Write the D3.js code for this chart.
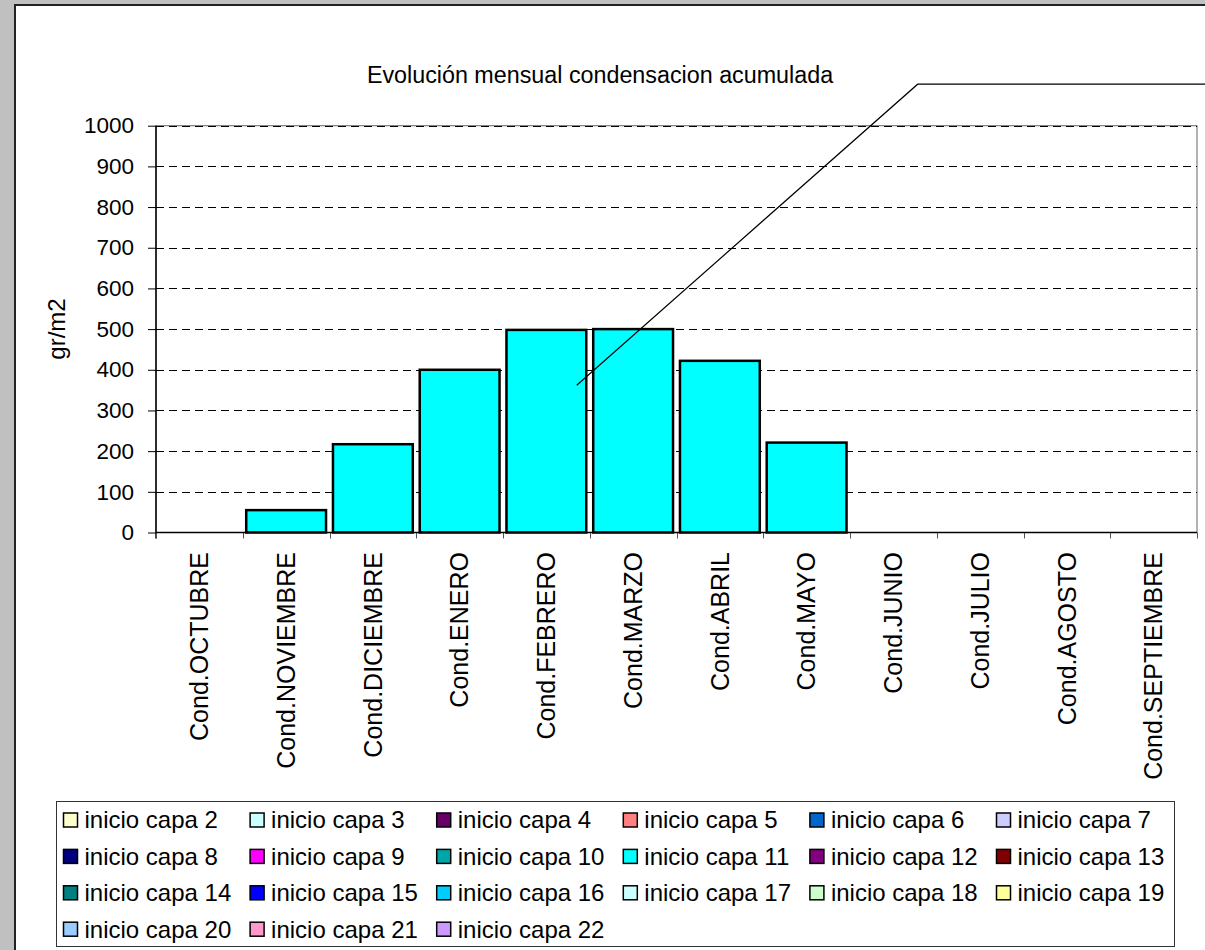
<!DOCTYPE html>
<html><head><meta charset="utf-8">
<script src="https://cdn.jsdelivr.net/npm/d3@7"></script>
<style>body{margin:0;background:#fff}svg{display:block;font-family:"Liberation Sans",Arial,sans-serif}</style>
</head><body><svg id="c" width="1205" height="950"></svg>
<script>
const title = "Evolución mensual condensacion acumulada";
const yLabel = "gr/m2";
const categories = ["Cond.OCTUBRE","Cond.NOVIEMBRE","Cond.DICIEMBRE","Cond.ENERO","Cond.FEBRERO","Cond.MARZO","Cond.ABRIL","Cond.MAYO","Cond.JUNIO","Cond.JULIO","Cond.AGOSTO","Cond.SEPTIEMBRE"];
const values = [0,55,217,400,498,500,422,221,0,0,0,0];
const yTicks = [0,100,200,300,400,500,600,700,800,900,1000];
const legendNames = ["inicio capa 2","inicio capa 3","inicio capa 4","inicio capa 5","inicio capa 6","inicio capa 7","inicio capa 8","inicio capa 9","inicio capa 10","inicio capa 11","inicio capa 12","inicio capa 13","inicio capa 14","inicio capa 15","inicio capa 16","inicio capa 17","inicio capa 18","inicio capa 19","inicio capa 20","inicio capa 21","inicio capa 22"];
const legendColors = ["#FFFFCC","#CCFFFF","#660066","#FF8080","#0066CC","#CCCCFF","#000080","#FF00FF","url(#pat10)","#00FFFF","#800080","#800000","#008080","#0000FF","#00CCFF","#CCFFFF","#CCFFCC","#FFFF99","#99CCFF","#FF99CC","#CC99FF"];
// leader line in (category-units, value) space
const leaderX = [4.85, 8.78, 12.1];
const leaderY = [362, 1102, 1102];

const svg = d3.select("#c");
const W = 1205, H = 950;
const defs = svg.append("defs");
const pat = defs.append("pattern").attr("id","pat10").attr("width",2).attr("height",2).attr("patternUnits","userSpaceOnUse");
pat.append("rect").attr("width",2).attr("height",2).attr("fill","#00CCCC");
pat.append("rect").attr("width",1).attr("height",1).attr("fill","#008080");
pat.append("rect").attr("x",1).attr("y",1).attr("width",1).attr("height",1).attr("fill","#008080");

svg.append("rect").attr("width",W).attr("height",H).attr("fill","#c0c0c0");
svg.append("rect").attr("x",15).attr("y",5).attr("width",W).attr("height",H).attr("fill","#fff");
svg.append("line").attr("x1",15).attr("x2",15).attr("y1",4).attr("y2",H).attr("stroke","#222").attr("stroke-width",2);
svg.append("line").attr("x1",14).attr("x2",W).attr("y1",5).attr("y2",5).attr("stroke","#222").attr("stroke-width",2);

const L = 156, R = 1197, T = 125.7, B = 532.5;
const x = d3.scaleBand().domain(categories).range([L,R]).padding(0);
const xu = d3.scaleLinear().domain([0,categories.length]).range([L,R]);
const y = d3.scaleLinear().domain([0,1000]).range([B,T]);

// plot area border
svg.append("rect").attr("x",L).attr("y",T).attr("width",R-L).attr("height",B-T).attr("fill","none").attr("stroke","#666").attr("stroke-width",1);
// gridlines
svg.append("g").selectAll("line").data(yTicks.filter(d=>d>0)).join("line")
  .attr("x1",L).attr("x2",R).attr("y1",d=>Math.round(y(d))+0.5).attr("y2",d=>Math.round(y(d))+0.5)
  .attr("stroke","#000").attr("stroke-dasharray","8,5").attr("stroke-width",1);

// y axis
const ya = svg.append("g").attr("transform",`translate(${L},0)`)
  .call(d3.axisLeft(y).tickValues(yTicks).tickSize(8).tickPadding(14).tickFormat(d3.format("d")));
ya.select(".domain").remove();
ya.selectAll("line").attr("stroke","#000");
ya.selectAll("text").attr("font-size",22.5).attr("fill","#000").attr("font-family","Liberation Sans, Arial");
svg.append("line").attr("x1",L).attr("x2",L).attr("y1",T).attr("y2",B+6).attr("stroke","#000").attr("stroke-width",1.5);

// x ticks
svg.append("g").selectAll("line").data(d3.range(categories.length+1)).join("line")
  .attr("x1",d=>Math.round(xu(d))+0.5).attr("x2",d=>Math.round(xu(d))+0.5).attr("y1",B).attr("y2",B+6)
  .attr("stroke","#555");

// bars
const step = x.bandwidth();
svg.append("g").selectAll("rect").data(values.map((v,i)=>({v,c:categories[i]})).filter(d=>d.v>0)).join("rect")
  .attr("x",d=>x(d.c)+step*0.04).attr("width",step*0.92)
  .attr("y",d=>y(d.v)).attr("height",d=>B-y(d.v))
  .attr("fill","#00FFFF").attr("stroke","#000").attr("stroke-width",2.5);

// x axis line
svg.append("line").attr("x1",L).attr("x2",R).attr("y1",B).attr("y2",B).attr("stroke","#000").attr("stroke-width",1.5);

// category labels
svg.append("g").selectAll("text").data(categories).join("text")
  .attr("transform",d=>`translate(${x(d)+step/2},552) rotate(-90)`)
  .attr("text-anchor","end").attr("dy","0.35em").attr("font-size",25).attr("fill","#000").text(d=>d);

// title
svg.append("text").attr("x",600).attr("y",83).attr("text-anchor","middle").attr("font-size",23.3).text(title);
// y label
svg.append("text").attr("transform",`translate(57,329) rotate(-90)`).attr("text-anchor","middle").attr("dy","0.35em").attr("font-size",24).text(yLabel);

// leader line
svg.append("path").attr("d",d3.line()(leaderX.map((v,i)=>[xu(v),y(leaderY[i])]))).attr("fill","none").attr("stroke","#000").attr("stroke-width",1.2);

// legend
svg.append("rect").attr("x",56.5).attr("y",801.5).attr("width",1118).attr("height",145).attr("fill","#fff").attr("stroke","#333").attr("stroke-width",1);
const lg = svg.append("g").selectAll("g").data(legendNames).join("g")
  .attr("transform",(d,i)=>`translate(${63.5+(i%6)*186.6},${820+Math.floor(i/6)*36.4})`);
lg.append("rect").attr("x",0).attr("y",-7).attr("width",14).attr("height",14)
  .attr("fill",(d,i)=>legendColors[i]).attr("stroke","#000").attr("stroke-width",1.5);
lg.append("text").attr("x",21).attr("dy","0.35em").attr("font-size",24).text(d=>d);
</script></body></html>
